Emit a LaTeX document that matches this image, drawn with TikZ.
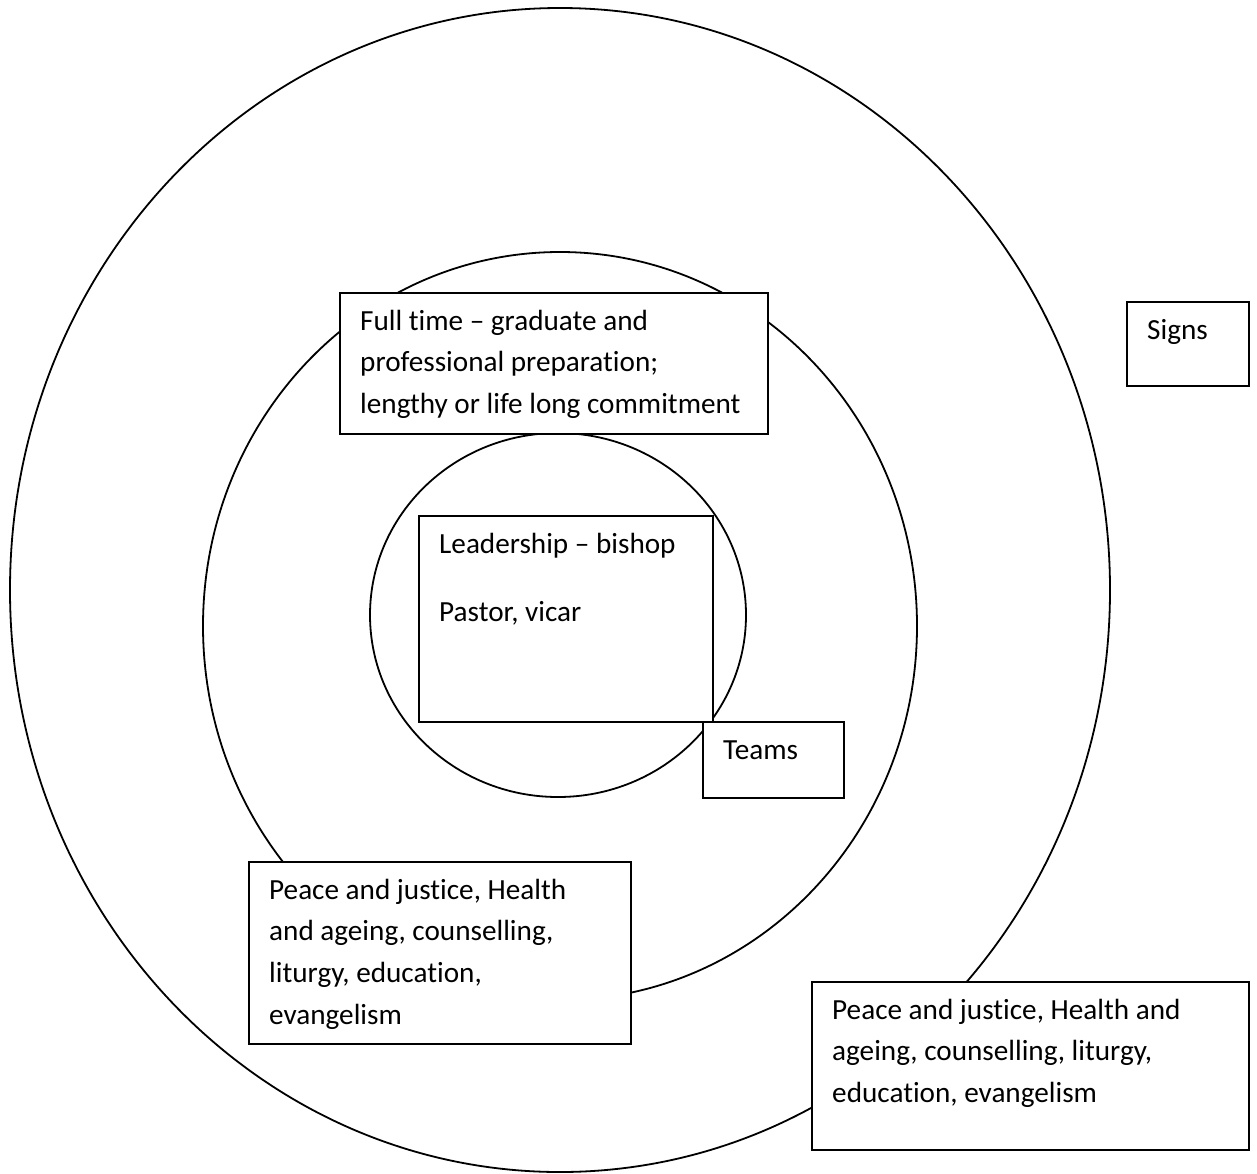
\documentclass[tikz,border=0pt]{standalone}
\usepackage{fontspec}
\setmainfont{Carlito}[Ligatures=NoCommon]
\usetikzlibrary{shapes.geometric}
\newcommand{\firstline}{\rule{0pt}{30pt}}
\begin{document}
\begin{tikzpicture}[x=1pt,y=-1pt,
  ring/.style={ellipse, draw, line width=1.8pt, inner sep=0pt},
  box/.style={rectangle, draw, fill=white, line width=2pt, inner sep=0pt, anchor=north west},
  txt/.style={anchor=north west, inner sep=0pt, align=left, font=\fontsize{29.2}{41.7}\selectfont}]
\useasboundingbox (0,0) rectangle (1257,1173);
% rings
\node[ring, minimum width=1100pt, minimum height=1164pt] (outer) at (560,590) {};
\node[ring, minimum width=714pt, minimum height=748pt] (middle) at (560,626) {};
\node[ring, minimum width=376pt, minimum height=364pt] (inner) at (558,615) {};
% boxes
\node[box, minimum width=428pt, minimum height=141pt] (fulltime) at (339,292) {};
\node[box, minimum width=294pt, minimum height=206pt] (leader) at (418,515) {};
\node[box, minimum width=141pt, minimum height=76pt] (teams) at (702,721) {};
\node[box, minimum width=122pt, minimum height=84pt] (signs) at (1126,301) {};
\node[box, minimum width=382pt, minimum height=182pt] (peacemid) at (248,861) {};
\node[box, minimum width=437pt, minimum height=168pt] (peaceout) at (811,981) {};
% texts
\node[txt] (fulltimeT) at (360,300) {\firstline Full time – graduate and\\professional preparation;\\lengthy or life long commitment};
\node[txt] (leaderT) at (439,523) {\firstline Leadership – bishop\\[26.3pt]Pastor, vicar};
\node[txt] (teamsT) at (723,729) {\firstline Teams};
\node[txt] (signsT) at (1147,309) {\firstline Signs};
\node[txt] (peacemidT) at (269,869) {\firstline Peace and justice, Health\\and ageing, counselling,\\liturgy, education,\\evangelism};
\node[txt] (peaceoutT) at (832,989) {\firstline Peace and justice, Health and\\ageing, counselling, liturgy,\\education, evangelism};
\end{tikzpicture}
\end{document}
